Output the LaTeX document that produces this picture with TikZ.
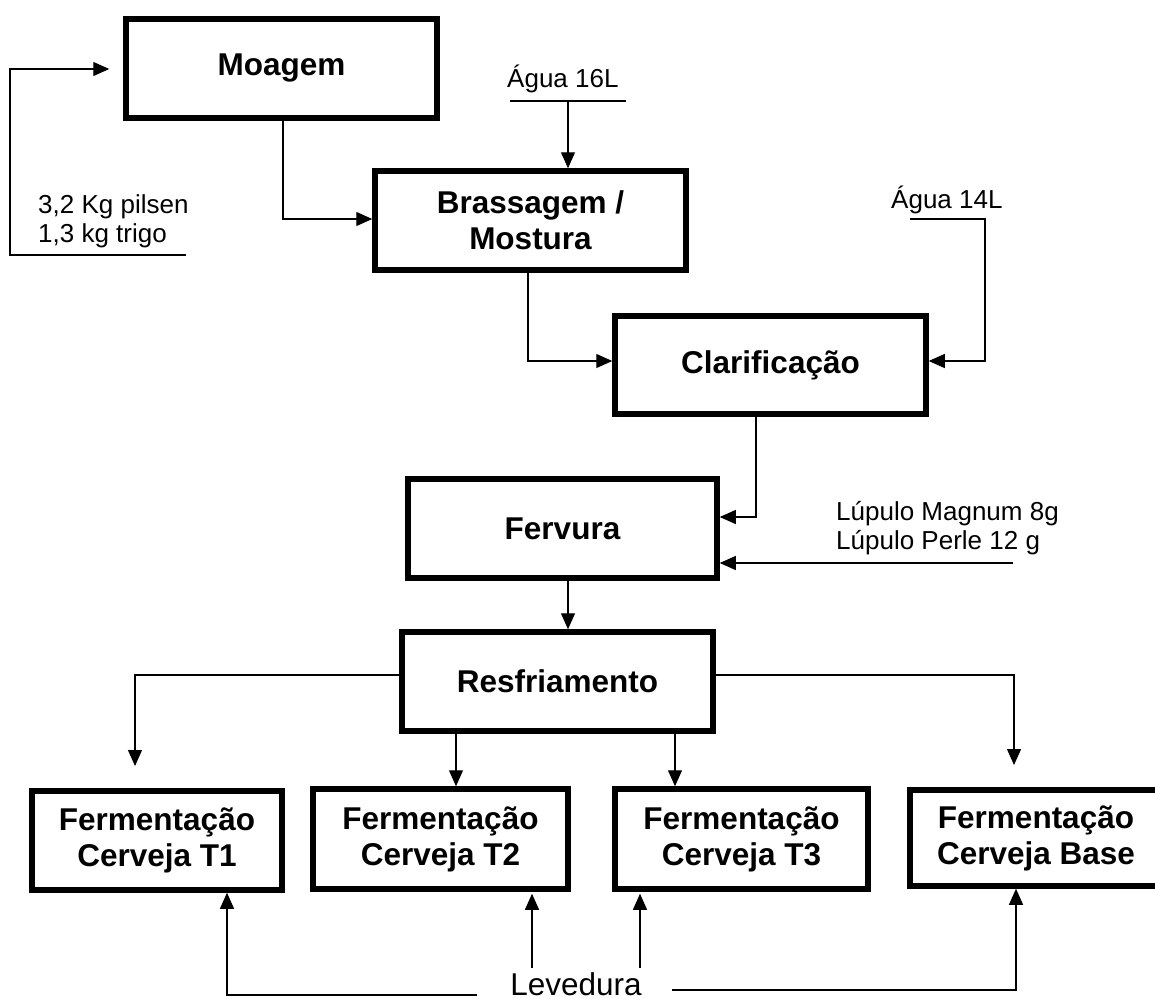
\documentclass[tikz,border=0pt]{standalone}
\usepackage{fontspec}
\setmainfont{Liberation Sans}
\usetikzlibrary{arrows.meta}
\begin{document}
\begin{tikzpicture}[x=1pt,y=-1pt,
  box/.style={draw, line width=5.5pt, minimum height=99pt, inner sep=0pt, align=center,
    font=\fontsize{31.5}{36}\selectfont\bfseries},
  lbl/.style={inner sep=0pt, font=\fontsize{26}{29}\selectfont},
  conn/.style={line width=1.2pt},
  arr/.style={conn, -{Triangle[length=16pt,width=14pt]}}]
\useasboundingbox (0,0) rectangle (1155,998);
\clip (0,0) rectangle (1155,998);

% process boxes
\node[box, minimum width=311pt] (moagem) at (281.5,68.5) {Moagem};
\node[box, minimum width=311pt] (brass) at (530.5,220.5) {Brassagem /\\Mostura};
\node[box, minimum width=311pt, minimum height=98pt] (clar) at (770.5,365) {Clarificação};
\node[box, minimum width=309pt] (ferv) at (562.5,528.5) {Fervura};
\node[box, minimum width=311pt] (resf) at (557.5,681.5) {Resfriamento};
\node[box, minimum width=250pt] (t1) at (157,840.5) {Fermentação\\Cerveja T1};
\node[box, minimum width=255pt, minimum height=100pt] (t2) at (440.5,839) {Fermentação\\Cerveja T2};
\node[box, minimum width=253pt, minimum height=100pt] (t3) at (741.5,839) {Fermentação\\Cerveja T3};
\node[box, minimum width=252pt, minimum height=96pt] (base) at (1036,838) {Fermentação\\Cerveja Base};

% labels
\node[lbl, anchor=base west] (kg1) at (38,213) {3,2 Kg pilsen};
\node[lbl, anchor=base west] (kg2) at (38,242) {1,3 kg trigo};
\node[lbl, anchor=base west] (ag16) at (507,87) {Água 16L};
\node[lbl, anchor=base west] (ag14) at (891,208) {Água 14L};
\node[lbl, anchor=base west] (lup1) at (836,520) {Lúpulo Magnum 8g};
\node[lbl, anchor=base west] (lup2) at (836,549) {Lúpulo Perle 12 g};
\node[lbl, font=\fontsize{31.5}{36}\selectfont, anchor=base] (lev) at (576,995) {Levedura};

% free ends
\coordinate (inA) at (186,255);
\coordinate (inB) at (10,255);
\coordinate (inC) at (10,69);
\coordinate (l16a) at (510,101);
\coordinate (l16b) at (626,101);
\coordinate (l16m) at (568,101);
\coordinate (l14a) at (910,219);
\coordinate (l14b) at (985,219);
\coordinate (lup) at (1013,563);
\coordinate (fr) at (568,0);
\coordinate (t1in) at (135,766);
\coordinate (basein) at (1014,765);
\coordinate (x2) at (456,0);
\coordinate (x3) at (675,0);
\coordinate (levL) at (477,995);
\coordinate (levR) at (672,990);
\coordinate (xa) at (227,0);
\coordinate (xb) at (1016,0);
\coordinate (lev2) at (532,968);
\coordinate (lev3) at (640,968);

% connectors
\draw[arr, shorten >=14pt] (inA) -- (inB) -- (inC) -- (inC -| moagem.west);
\draw[arr] ([xshift=1.5pt]moagem.south) |- ([yshift=1.5pt]brass.west);
\draw[conn] (l16a) -- (l16b);
\draw[arr] (l16m) -- (l16m |- brass.north);
\draw[arr] ([xshift=-2.5pt]brass.south) |- ([yshift=4pt]clar.west);
\draw[arr] (l14a) -- (l14b) |- ([yshift=4pt]clar.east);
\draw[arr] ([xshift=-14.5pt]clar.south) |- ([yshift=11.5pt]ferv.east);
\draw[arr] (lup) -- (lup -| ferv.east);
\draw[arr] (ferv.south -| fr) -- (resf.north -| fr);
\draw[arr] ([yshift=6.5pt]resf.west) -| (t1in);
\draw[arr] ([yshift=6.5pt]resf.east) -| (basein);
\draw[arr] (resf.south -| x2) -- (t2.north -| x2);
\draw[arr] (resf.south -| x3) -- (t3.north -| x3);
\draw[arr] (levL) -| (t1.south -| xa);
\draw[arr] (levR) -| (base.south -| xb);
\draw[arr, shorten >=2pt] (lev2) -- (t2.south -| lev2);
\draw[arr, shorten >=2pt] (lev3) -- (t3.south -| lev3);
\end{tikzpicture}
\end{document}
